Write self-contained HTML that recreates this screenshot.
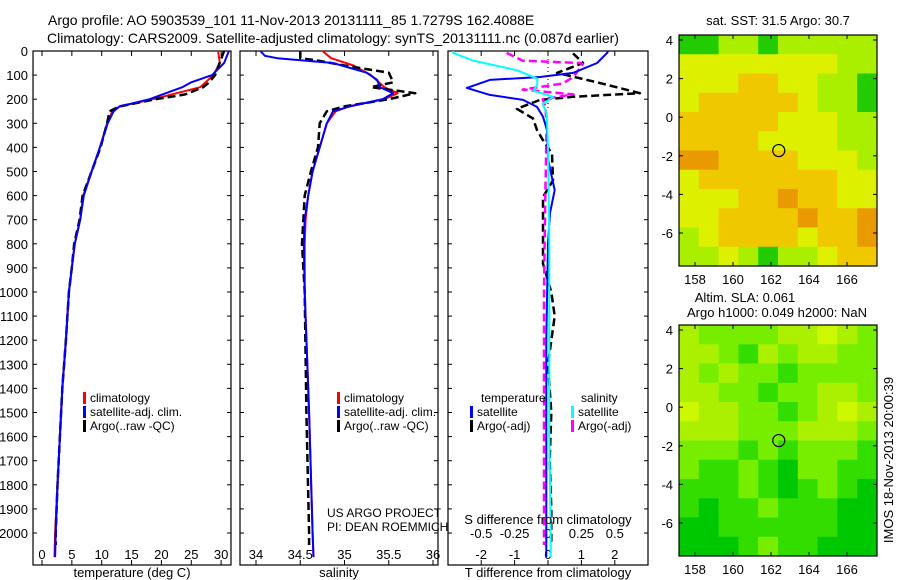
<!DOCTYPE html>
<html><head><meta charset="utf-8"><style>
body{margin:0;background:#fff;}
svg{display:block;font-family:"Liberation Sans",sans-serif;}
</style></head><body>
<svg id="c" width="900" height="580" viewBox="0 0 900 580">
<text x="48" y="25" font-size="14">Argo profile: AO 5903539_101 11-Nov-2013 20131111_85 1.7279S 162.4088E</text>
<text x="47" y="43" font-size="14">Climatology: CARS2009. Satellite-adjusted climatology: synTS_20131111.nc (0.087d earlier)</text>
</svg>
<script>
// ---- data ----
const tClimDepth=[0,50,100,150,200,230,250,300,400,500,600,700,800,900,1000,1200,1400,1600,1800,2000,2100];
const tClimVal=[29.5,29.8,28.7,26.5,18.6,13,11.8,10.9,9.7,8.3,6.9,6.4,5.5,5.0,4.5,4.0,3.4,3.0,2.6,2.2,2.1];
const tSatDepth=[0,50,100,130,150,200,230,250,300,400,500,600,700,800,900,1000,1200,1400,1600,1800,2000,2100];
const tSatVal=[31.3,30.5,28.5,25,23.5,18,13,12,11,9.7,8.3,7,6.4,5.5,5.0,4.5,4.0,3.4,3.0,2.6,2.3,2.2];
const tArgoDepth=[0,100,130,150,180,200,230,250,300,400,500,600,700,800,900,1000,1200,1400,1600,1800,2000,2050];
const tArgoVal=[30.5,29,28,27,24,19,13,11.3,10.9,9.8,8.3,6.8,6.3,5.4,5.0,4.5,4.0,3.4,3.0,2.6,2.3,2.3];
const sClimDepth=[0,30,60,100,150,175,200,230,250,300,400,500,600,700,800,1000,1500,2000,2100];
const sClimVal=[34.75,34.85,35.1,35.3,35.45,35.6,35.45,35.05,34.9,34.8,34.72,34.64,34.59,34.56,34.55,34.55,34.6,34.64,34.65];
const sSatDepth=[0,20,30,50,90,120,150,175,200,230,250,300,400,500,600,700,800,1000,1500,2000,2100];
const sSatVal=[34.05,34.1,34.24,34.87,35.25,35.37,35.4,35.55,35.43,35.06,34.87,34.8,34.72,34.64,34.59,34.55,34.54,34.55,34.6,34.64,34.65];
const sArgoDepth=[0,30,40,60,90,130,150,175,200,230,250,300,400,500,600,800,1000,1500,2000,2050];
const sArgoVal=[34.5,34.5,34.7,35.0,35.5,35.55,35.3,35.8,35.5,35.0,34.8,34.72,34.7,34.62,34.55,34.52,34.55,34.57,34.6,34.6];
const dTSatDepth=[0,8,50,91,108,120,153,182,203,232,273,328,450,577,672,800,1200,1600,2000,2100];
const dTSatVal=[1.8,1.77,1.47,0.75,-0.24,-1.74,-2.43,-1.74,-0.75,-0.33,-0.15,-0.03,0,0.2,0.06,0,-0.05,-0.05,-0.05,-0.05];
const dTArgoDepth=[10,50,91,130,175,190,203,240,280,328,370,426,537,606,744,882,1000,1100,1300,1500,1700,1900,2050];
const dTArgoVal=[0.75,1.05,0.27,1.47,2.75,0.75,-0.24,-0.93,-0.45,-0.33,-0.15,0.12,0.15,-0.15,-0.15,-0.15,0.1,0.2,0.0,0.1,0.05,0.1,0.1];
const dSSatDepth=[0,8,40,80,115,140,165,190,220,260,400,800,1200,1600,2000,2100];
const dSSatVal=[-0.71,-0.71,-0.56,-0.23,-0.08,-0.08,-0.11,0.04,-0.04,-0.01,0.0,0.01,0.01,0.01,0.02,0.02];
const dSArgoDepth=[8,40,50,55,108,135,160,180,200,230,300,600,1000,1500,2000,2050];
const dSArgoVal=[-0.31,-0.19,0.24,0.26,0.19,0.11,-0.19,0.19,-0.04,-0.02,-0.01,-0.02,-0.03,-0.03,-0.03,-0.03];
const depthTicks=[0,100,200,300,400,500,600,700,800,900,1000,1100,1200,1300,1400,1500,1600,1700,1800,1900,2000];
const tTicks=[0,5,10,15,20,25,30];
const sTicks=[34,34.5,35,35.5,36];
const sTickLabels=["34","34.5","35","35.5","36"];
const dTTicks=[-2,-1,0,1,2];
const dSTicks=[-0.5,-0.25,0,0.25,0.5];
const dSTickLabels=["-0.5","-0.25","0","0.25","0.5"];
const mapLonTicks=[158,160,162,164,166];
const mapLatTicks=[4,2,0,-2,-4,-6];
const argoLon=162.4088, argoLat=-1.7279;
const sstGrid=[
[0,0,1,1,0,1,1,1,1,1],[2,2,2,2,2,2,2,2,1,1],[2,2,2,3,3,2,2,1,1,0],[2,3,3,3,3,3,2,1,1,0],
[3,3,3,3,3,2,2,2,1,1],[3,3,3,3,2,2,2,2,1,1],[4,4,3,3,3,3,2,2,2,1],[2,3,3,3,3,3,3,3,2,2],
[2,2,2,3,3,4,3,3,2,2],[2,2,3,3,3,3,4,3,3,4],[1,2,3,3,3,3,2,3,3,4],[1,1,2,1,0,1,1,2,3,3]];
const slaGrid=[
[3,2,2,2,2,3,3,4,3,2],[3,3,2,1,3,2,3,3,2,2],[3,2,3,2,2,1,2,2,2,2],[3,3,2,2,1,2,2,3,3,2],
[4,3,3,2,2,1,2,3,4,3],[3,3,3,2,2,2,3,3,3,2],[2,2,2,1,2,1,2,2,2,1],[2,1,1,2,1,0,2,2,1,1],
[1,1,1,2,1,0,1,2,1,0],[1,0,1,1,2,1,1,1,0,0],[0,0,1,1,1,1,1,1,0,0],[0,0,0,1,2,1,1,0,0,0]];
// ---- drawing ----
const svg=document.getElementById('c');const NS='http://www.w3.org/2000/svg';
function el(t,a,txt){const e=document.createElementNS(NS,t);for(const k in a)e.setAttribute(k,a[k]);if(txt!==undefined)e.textContent=txt;svg.appendChild(e);return e;}
const yD=d=>51+d*0.241;
const xT=v=>42+v*5.97;
const xS=v=>256+(v-34)*88.5;
const xDT=v=>548+v*33.4;
const xDS=v=>548+v*4*33.4;
function line(ds,vs,fx,col,w,dash,name){
  let p=ds.map((d,i)=>fx(vs[i]).toFixed(1)+','+yD(d).toFixed(1)).join(' ');
  const e=el('polyline',{points:p,fill:'none',stroke:col,'stroke-width':w,'stroke-dasharray':dash||'none','stroke-linejoin':'round'});
  
  
}
function frame(x0,x1,name){
  const r=el('rect',{x:x0,y:51,width:x1-x0,height:514,fill:'none',stroke:'#000','stroke-width':1.2});
  
  
  depthTicks.forEach(d=>{el('line',{x1:x0,x2:x0+4,y1:yD(d),y2:yD(d),stroke:'#000'});el('line',{x1:x1-4,x2:x1,y1:yD(d),y2:yD(d),stroke:'#000'});});
}
frame(33,231,'temperature-panel');frame(240,438,'salinity-panel');frame(448,648,'difference-panel');
depthTicks.forEach(d=>{const t=el('text',{x:28,y:yD(d)+5,'font-size':13,'text-anchor':'end'},String(d));
  
  });
tTicks.forEach(v=>{el('line',{x1:xT(v),x2:xT(v),y1:565,y2:560,stroke:'#000'});el('line',{x1:xT(v),x2:xT(v),y1:51,y2:56,stroke:'#000'});
  const t=el('text',{x:xT(v),y:559,'font-size':13,'text-anchor':'middle'},String(v));
  
  });
sTicks.forEach((v,i)=>{el('line',{x1:xS(v),x2:xS(v),y1:565,y2:560,stroke:'#000'});el('line',{x1:xS(v),x2:xS(v),y1:51,y2:56,stroke:'#000'});
  const t=el('text',{x:xS(v),y:559,'font-size':13,'text-anchor':'middle'},sTickLabels[i]);
  
  });
dTTicks.forEach(v=>{el('line',{x1:xDT(v),x2:xDT(v),y1:565,y2:560,stroke:'#000'});el('line',{x1:xDT(v),x2:xDT(v),y1:51,y2:56,stroke:'#000'});
  const t=el('text',{x:xDT(v),y:559,'font-size':13,'text-anchor':'middle'},String(v));
  
  });
dSTicks.forEach((v,i)=>{const t=el('text',{x:xDS(v),y:538,'font-size':13,'text-anchor':'middle'},dSTickLabels[i]);
  
  });
el('line',{x1:548,x2:548,y1:51,y2:110,stroke:'#000','stroke-dasharray':'1,3'});
// series
line(tClimDepth,tClimVal,xT,'#f00',2,null,'temperature-climatology-line');
line(tArgoDepth,tArgoVal,xT,'#000',2.5,'8,4','temperature-argo-line');
line(tSatDepth,tSatVal,xT,'#00f',2,null,'temperature-satellite-line');
line(sClimDepth,sClimVal,xS,'#f00',2,null,'salinity-climatology-line');
line(sArgoDepth,sArgoVal,xS,'#000',2.5,'8,4','salinity-argo-line');
line(sSatDepth,sSatVal,xS,'#00f',2,null,'salinity-satellite-line');
line(dTArgoDepth,dTArgoVal,xDT,'#000',2.5,'8,4','t-diff-argo-line');
line(dSArgoDepth,dSArgoVal,xDS,'#f0f',2.5,'8,4','s-diff-argo-line');
line(dTSatDepth,dTSatVal,xDT,'#00f',2,null,'t-diff-satellite-line');
line(dSSatDepth,dSSatVal,xDS,'#0ff',2,null,'s-diff-satellite-line');
// axis titles
[[132,'temperature (deg C)','temperature-axis-title'],[339,'salinity','salinity-axis-title'],[548,'T difference from climatology','t-diff-axis-title']].forEach(a=>{
  const t=el('text',{x:a[0],y:577,'font-size':13,'text-anchor':'middle'},a[1]);
  
  });
const st=el('text',{x:548,y:524,'font-size':13,'text-anchor':'middle'},'S difference from climatology');


// legends
function leg(x,y,col,label,name){
  el('rect',{x:x,y:y-10,width:3,height:12,fill:col});
  const t=el('text',{x:x+7,y:y,'font-size':12},label);
  
  
}
leg(83,402,'#f00','climatology','legend-climatology');
leg(83,416,'#00f','satellite-adj. clim.','legend-satellite');
leg(83,430,'#000','Argo(..raw -QC)','legend-argo');
leg(337,402,'#f00','climatology','legend-climatology-s');
leg(337,416,'#00f','satellite-adj. clim.','legend-satellite-s');
leg(337,430,'#000','Argo(..raw -QC)','legend-argo-s');
el('text',{x:481,y:402,'font-size':12},'temperature');
el('text',{x:581,y:402,'font-size':12},'salinity');
leg(470,416,'#00f','satellite','legend-t-satellite');
leg(470,430,'#000','Argo(-adj)','legend-t-argo');
leg(571,416,'#0ff','satellite','legend-s-satellite');
leg(571,430,'#f0f','Argo(-adj)','legend-s-argo');
el('text',{x:327,y:517,'font-size':12},'US ARGO PROJECT');
el('text',{x:327,y:531,'font-size':12},'PI: DEAN ROEMMICH');
// maps
const lonX=l=>695+(l-158)*19;
const sstCols=['#22cc00','#aaee00','#ddf000','#f0c800','#e89a00'];
const slaCols=['#00c800','#33dd00','#77ee00','#aaf000','#ccf800'];
function map(top,grid,cols,name){
  const bottom=top+231, latY=l=>top+5+(4-l)*19.3;
  const g=el('g',{});
  const cw=198/grid[0].length, ch=231/grid.length;
  grid.forEach((row,r)=>row.forEach((v,c)=>{const e=document.createElementNS(NS,'rect');
    e.setAttribute('x',679+c*cw);e.setAttribute('y',top+r*ch);e.setAttribute('width',cw+0.5);e.setAttribute('height',ch+0.5);e.setAttribute('fill',cols[v]);g.appendChild(e);}));
  el('rect',{x:679,y:top,width:198,height:231,fill:'none',stroke:'#000','stroke-width':1.2});
  mapLonTicks.forEach(l=>{el('line',{x1:lonX(l),x2:lonX(l),y1:top,y2:top+4,stroke:'#000'});el('line',{x1:lonX(l),x2:lonX(l),y1:bottom,y2:bottom-4,stroke:'#000'});
    el('text',{x:lonX(l),y:bottom+18,'font-size':13,'text-anchor':'middle'},String(l));});
  mapLatTicks.forEach(l=>{el('line',{x1:679,x2:683,y1:latY(l),y2:latY(l),stroke:'#000'});el('line',{x1:873,x2:877,y1:latY(l),y2:latY(l),stroke:'#000'});
    el('text',{x:673,y:latY(l)+5,'font-size':13,'text-anchor':'end'},String(l));});
  const c=el('circle',{cx:lonX(argoLon),cy:latY(argoLat),r:6,fill:'none',stroke:'#000','stroke-width':1.2});
  
  
}
map(35,sstGrid,sstCols,'sst-map');
map(325,slaGrid,slaCols,'sla-map');
el('text',{x:778,y:25,'font-size':13,'text-anchor':'middle'},'sat. SST: 31.5 Argo: 30.7');
el('text',{x:745,y:302,'font-size':13,'text-anchor':'middle'},'Altim. SLA: 0.061');
el('text',{x:777,y:317,'font-size':13,'text-anchor':'middle'},'Argo h1000: 0.049 h2000: NaN');
el('text',{x:0,y:0,'font-size':13,'text-anchor':'middle',transform:'translate(893,460) rotate(-90)'},'IMOS 18-Nov-2013 20:00:39');
</script>
</body></html>
